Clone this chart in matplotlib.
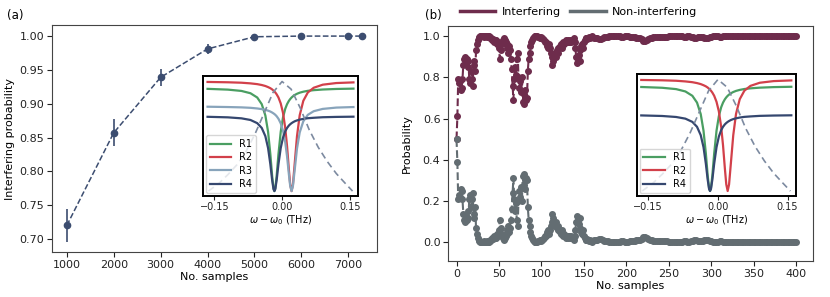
import numpy as np
import matplotlib
matplotlib.use("Agg")
import matplotlib.pyplot as plt

# ---------------- panel (a) data ----------------
n_samples_a = [1000, 2000, 3000, 4000, 5000, 6000, 7000, 7300]
prob_a = [0.720, 0.857, 0.939, 0.981, 0.999, 1.0, 1.0, 1.0]
err_a = [0.024, 0.020, 0.013, 0.007, 0.002, 0.0, 0.0, 0.0]

# ---------------- panel (b) data ----------------
samples_b = list(range(0, 161)) + list(range(162, 401, 2))
interfering = [
    0.50, 0.61, 0.79, 0.77, 0.78, 0.74, 0.75, 0.79, 0.86, 0.89,
    0.90, 0.87, 0.89, 0.85, 0.88, 0.79, 0.77, 0.83, 0.79, 0.76,
    0.86, 0.88, 0.83, 0.93, 0.96, 0.98, 0.99, 0.995, 1.0, 1.0,
    1.0, 1.0, 0.995, 1.0, 1.0, 1.0, 0.995, 1.0, 1.0, 0.99,
    0.995, 0.99, 0.98, 0.985, 0.97, 0.98, 0.98, 0.97, 0.96, 0.97,
    0.94, 0.89, 0.93, 0.96, 0.97, 0.98, 0.99, 0.98, 0.97, 0.96,
    0.94, 0.92, 0.95, 0.93, 0.89, 0.84, 0.76, 0.69, 0.79, 0.85,
    0.81, 0.89, 0.92, 0.80, 0.75, 0.78, 0.73, 0.80, 0.68, 0.72,
    0.67, 0.74, 0.69, 0.70, 0.83, 0.89, 0.92, 0.95, 0.97, 0.98,
    0.99, 0.995, 1.0, 1.0, 1.0, 1.0, 0.995, 0.995, 0.99, 0.99,
    0.995, 0.99, 0.985, 0.98, 0.97, 0.97, 0.96, 0.95, 0.94, 0.96,
    0.94, 0.92, 0.90, 0.86, 0.88, 0.91, 0.92, 0.90, 0.93, 0.94,
    0.92, 0.94, 0.95, 0.96, 0.94, 0.96, 0.97, 0.96, 0.97, 0.98,
    0.97, 0.98, 0.97, 0.97, 0.98, 0.97, 0.98, 0.98, 0.99, 0.97,
    0.94, 0.90, 0.87, 0.89, 0.91, 0.88, 0.93, 0.95, 0.96, 0.94,
    0.97, 0.98, 0.99, 0.99, 0.985, 0.99, 0.995, 0.99, 0.995, 0.995, 1.0,
    # 162 .. 400 every 2 samples
    0.99, 0.99, 0.99, 0.985, 0.985, 0.99, 0.995, 0.995, 0.995, 1.0,
    1.0, 1.0, 1.0, 1.0, 1.0, 1.0, 0.995, 0.995, 1.0, 1.0,
    1.0, 0.995, 0.995, 0.995, 0.995, 0.99, 0.99, 0.99, 0.985, 0.975,
    0.975, 0.98, 0.985, 0.99, 0.99, 0.995, 0.995, 0.995, 0.995, 0.995,
    0.995, 0.995, 0.995, 0.995, 1.0, 1.0, 1.0, 1.0, 1.0, 1.0,
    1.0, 1.0, 1.0, 0.995, 0.995, 1.0, 1.0, 0.995, 0.995, 0.99,
    0.99, 0.995, 0.995, 0.995, 0.995, 0.99, 0.99, 0.99, 0.995, 0.995,
    1.0, 1.0, 1.0, 1.0, 0.995, 0.995, 1.0, 1.0, 1.0, 1.0,
    1.0, 1.0, 1.0, 1.0, 1.0, 1.0, 1.0, 1.0, 1.0, 1.0,
    1.0, 1.0, 1.0, 1.0, 1.0, 1.0, 1.0, 1.0, 1.0, 1.0,
    1.0, 1.0, 1.0, 1.0, 1.0, 1.0, 1.0, 1.0, 1.0, 1.0,
    1.0, 1.0, 1.0, 1.0, 1.0, 1.0, 1.0, 1.0, 1.0, 1.0,
]
non_interfering = [1 - v for v in interfering]

# ---------------- inset spectra ----------------
freq = [-0.165, -0.12, -0.09, -0.07, -0.055, -0.045, -0.037, -0.031, -0.026, -0.022,
        -0.019, -0.017, -0.015, -0.012, -0.008, -0.003, 0.002, 0.007, 0.011, 0.015,
        0.018, 0.021, 0.024, 0.028, 0.033, 0.039, 0.047, 0.057, 0.07, 0.09, 0.12, 0.158]
r1 = [0.933, 0.926, 0.914, 0.893, 0.854, 0.793, 0.690, 0.541, 0.338, 0.139,
      0.025, 0.0, 0.025, 0.139, 0.338, 0.541, 0.671, 0.751, 0.793, 0.823,
      0.840, 0.854, 0.865, 0.877, 0.888, 0.898, 0.907, 0.915, 0.921, 0.927, 0.932, 0.935]
r2 = [0.996, 0.993, 0.989, 0.983, 0.976, 0.968, 0.959, 0.949, 0.939, 0.928,
      0.917, 0.909, 0.900, 0.883, 0.854, 0.800, 0.715, 0.576, 0.410, 0.200,
      0.059, 0.0, 0.059, 0.254, 0.500, 0.692, 0.824, 0.900, 0.943, 0.971, 0.986, 0.992]
r3 = [0.770, 0.767, 0.764, 0.760, 0.754, 0.748, 0.741, 0.734, 0.726, 0.717,
      0.709, 0.703, 0.696, 0.683, 0.660, 0.618, 0.553, 0.445, 0.317, 0.155,
      0.046, 0.0, 0.046, 0.196, 0.387, 0.535, 0.637, 0.696, 0.729, 0.750, 0.762, 0.767]
r4 = [0.678, 0.673, 0.664, 0.649, 0.620, 0.576, 0.501, 0.393, 0.246, 0.101,
      0.018, 0.0, 0.018, 0.101, 0.246, 0.393, 0.488, 0.546, 0.576, 0.598,
      0.610, 0.620, 0.628, 0.637, 0.645, 0.652, 0.659, 0.665, 0.669, 0.674, 0.677, 0.679]
pump_freq = [-0.163, -0.14, -0.12, -0.10, -0.08, -0.06, -0.04, -0.02, 0.0,
             0.02, 0.04, 0.06, 0.08, 0.10, 0.12, 0.14, 0.156]
pump = [0.0, 0.07, 0.15, 0.24, 0.36, 0.52, 0.71, 0.90, 1.0,
        0.93, 0.76, 0.56, 0.40, 0.27, 0.16, 0.07, 0.0]

c_a = "#3c4d70"
c_int = "#6e2c4c"
c_non = "#636d72"
c_r1 = "#4a9e62"
c_r2 = "#d2404a"
c_r3 = "#88a4bb"
c_r4 = "#35476f"
c_pump = "#7c8aa0"

plt.rcParams["font.family"] = "DejaVu Sans"
plt.rcParams["font.size"] = 8
plt.rcParams["axes.edgecolor"] = "#444444"
plt.rcParams["xtick.color"] = "#222222"
plt.rcParams["ytick.color"] = "#222222"

fig = plt.figure(figsize=(8.3, 2.97), dpi=100)


def draw_inset(ax, curves):
    for ys, col, lab in curves:
        ax.plot(freq, ys, color=col, lw=1.6, label=lab)
    ax.plot(pump_freq, pump, color=c_pump, lw=1.2, ls="--", dashes=(4, 2.5))
    ax.set_xlim(-0.175, 0.168)
    ax.set_ylim(-0.045, 1.05)
    ax.set_yticks([])
    ax.set_xticks([-0.15, 0.0, 0.15])
    ax.set_xticklabels(["\u22120.15", "0.00", "0.15"])
    ax.tick_params(axis="x", labelsize=7, length=3, pad=1.5)
    ax.set_xlabel(r"$\omega - \omega_0$ (THz)", fontsize=7, labelpad=1)
    for s in ax.spines.values():
        s.set_color("black")
        s.set_linewidth(1.4)
    ax.legend(loc="lower left", fontsize=7, handlelength=2.2, borderpad=0.4,
              labelspacing=0.35, handletextpad=0.8, borderaxespad=0.3)


# ---------------- panel (a) ----------------
ax_a = fig.add_axes([0.0627, 0.1515, 0.3916, 0.764])
ax_a.errorbar(n_samples_a, prob_a, yerr=err_a, color=c_a, ls="--", lw=1.1,
              marker="o", ms=4.5, elinewidth=1.2, capsize=0)
ax_a.set_xticks([1000, 2000, 3000, 4000, 5000, 6000, 7000])
ax_a.set_yticks([0.70, 0.75, 0.80, 0.85, 0.90, 0.95, 1.00])
ax_a.yaxis.set_major_formatter(matplotlib.ticker.FormatStrFormatter("%.2f"))
ax_a.set_xlabel("No. samples", labelpad=2)
ax_a.set_ylabel("Interfering probability", labelpad=3)
ax_a.tick_params(length=3.5, pad=2)

ins_a = fig.add_axes([0.2446, 0.340, 0.1867, 0.404])
draw_inset(ins_a, [(r1, c_r1, "R1"), (r2, c_r2, "R2"), (r3, c_r3, "R3"), (r4, c_r4, "R4")])

# ---------------- panel (b) ----------------
ax_b = fig.add_axes([0.5398, 0.1212, 0.4398, 0.791])
ax_b.plot(samples_b, interfering, color=c_int, ls="--", lw=1.5, marker="o", ms=4,
          label="Interfering")
ax_b.plot(samples_b, non_interfering, color=c_non, ls="--", lw=1.5, marker="o", ms=4,
          label="Non-interfering")
ax_b.set_xlim(-10, 420)
ax_b.set_ylim(-0.09, 1.048)
ax_b.set_xticks(range(0, 401, 50))
ax_b.set_yticks([0.0, 0.2, 0.4, 0.6, 0.8, 1.0])
ax_b.set_xlabel("No. samples", labelpad=2)
ax_b.set_ylabel("Probability", labelpad=8)
ax_b.tick_params(length=3.5, pad=2)
leg_handles = [plt.Line2D([], [], color=c_int, lw=2.5), plt.Line2D([], [], color=c_non, lw=2.5)]
ax_b.legend(leg_handles, ["Interfering", "Non-interfering"], loc="center left",
            bbox_to_anchor=(0.02, 1.06), ncol=2, frameon=False, fontsize=8,
            handlelength=3.2, columnspacing=0.8, handletextpad=0.6, borderaxespad=0)

ins_b = fig.add_axes([0.767, 0.340, 0.192, 0.411])
draw_inset(ins_b, [(r1, c_r1, "R1"), (r2, c_r2, "R2"), (r4, c_r4, "R4")])

fig.text(0.008, 0.935, "(a)", fontsize=8.5)
fig.text(0.512, 0.935, "(b)", fontsize=8.5)

fig.savefig("out.png", dpi=100)
